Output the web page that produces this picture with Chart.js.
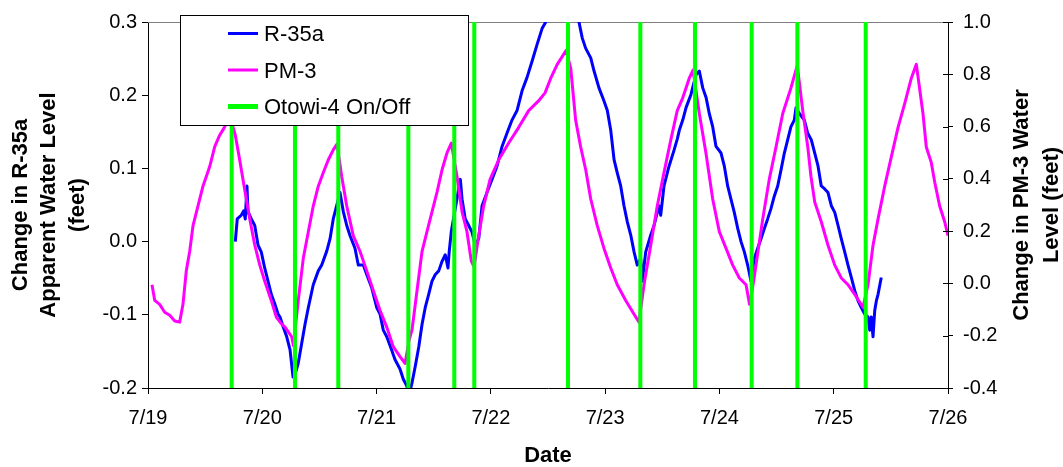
<!DOCTYPE html>
<html>
<head>
<meta charset="utf-8">
<script src="https://cdn.jsdelivr.net/npm/chart.js@4.4.0/dist/chart.umd.min.js"></script>
<style>
  html, body { margin: 0; padding: 0; background: #fff; }
  #wrap { width: 1063px; height: 467px; }
</style>
</head>
<body>
<div id="wrap"><canvas id="chart" width="1063" height="467"></canvas></div>
<script>
// Water level response to Otowi-4 pumping, 7/19 - 7/26
// x values are days after 7/19 00:00

const DAY_LABELS = ['7/19', '7/20', '7/21', '7/22', '7/23', '7/24', '7/25', '7/26'];

// R-35a apparent water level change (left axis, feet)
const r35Days = [
  0.764, 0.781, 0.816, 0.837, 0.851, 0.866, 0.875, 0.904, 0.934, 0.963, 0.991, 1.021, 1.050, 1.079, 1.109, 1.138,
  1.155, 1.184, 1.214, 1.243, 1.269, 1.286, 1.301, 1.315, 1.345, 1.374, 1.403, 1.446, 1.490, 1.520, 1.564, 1.593,
  1.621, 1.651, 1.680, 1.709, 1.739, 1.768, 1.811, 1.840, 1.884, 1.914, 1.957, 2.001, 2.030, 2.059, 2.089, 2.132,
  2.161, 2.205, 2.234, 2.264, 2.284, 2.310, 2.339, 2.369, 2.398, 2.426, 2.456, 2.485, 2.514, 2.544, 2.573, 2.601,
  2.625, 2.636, 2.654, 2.733, 2.748, 2.776, 2.806, 2.835, 2.864, 2.894, 2.923, 2.966, 3.010, 3.054, 3.098, 3.141,
  3.185, 3.229, 3.273, 3.316, 3.360, 3.404, 3.448, 3.535, 3.631, 3.710, 3.771, 3.800, 3.830, 3.874, 3.903, 3.946,
  3.990, 4.019, 4.049, 4.078, 4.106, 4.136, 4.165, 4.194, 4.224, 4.253, 4.281, 4.311, 4.325, 4.355, 4.399, 4.428,
  4.471, 4.486, 4.515, 4.559, 4.603, 4.631, 4.649, 4.679, 4.708, 4.751, 4.795, 4.824, 4.854, 4.883, 4.911, 4.941,
  4.970, 5.014, 5.043, 5.072, 5.101, 5.130, 5.160, 5.189, 5.218, 5.247, 5.276, 5.305, 5.335, 5.364, 5.393, 5.422,
  5.451, 5.480, 5.510, 5.539, 5.568, 5.597, 5.626, 5.655, 5.670, 5.699, 5.743, 5.773, 5.804, 5.834, 5.863, 5.891,
  5.921, 5.950, 5.979, 6.009, 6.038, 6.066, 6.096, 6.125, 6.154, 6.184, 6.213, 6.241, 6.271, 6.300, 6.315, 6.329,
  6.344, 6.359, 6.373, 6.388, 6.416
];
const r35Level = [
  0.000, 0.031, 0.036, 0.042, 0.031, 0.076, 0.041, 0.031, 0.022, -0.005, -0.014, -0.036, -0.054, -0.072, -0.085, -0.099,
  -0.103, -0.117, -0.130, -0.148, -0.185, -0.181, -0.174, -0.166, -0.139, -0.113, -0.090, -0.059, -0.040, -0.032, -0.013, 0.004,
  0.031, 0.049, 0.067, 0.041, 0.022, 0.008, -0.009, -0.032, -0.032, -0.045, -0.063, -0.090, -0.099, -0.121, -0.130, -0.148,
  -0.161, -0.174, -0.188, -0.197, -0.210, -0.193, -0.170, -0.144, -0.113, -0.090, -0.072, -0.054, -0.045, -0.040, -0.027, -0.018,
  -0.036, -0.013, 0.014, 0.085, 0.058, 0.031, 0.022, 0.013, -0.005, 0.004, 0.049, 0.067, 0.085, 0.103, 0.130, 0.148,
  0.166, 0.179, 0.206, 0.224, 0.246, 0.269, 0.291, 0.315, 0.325, 0.315, 0.300, 0.278, 0.264, 0.251, 0.233, 0.210,
  0.192, 0.179, 0.152, 0.112, 0.094, 0.076, 0.049, 0.027, 0.009, -0.014, -0.032, -0.023, -0.054, -0.014, 0.009, 0.022,
  0.049, 0.036, 0.076, 0.103, 0.125, 0.140, 0.152, 0.166, 0.183, 0.201, 0.228, 0.233, 0.210, 0.197, 0.175, 0.157,
  0.130, 0.121, 0.103, 0.076, 0.058, 0.040, 0.018, 0.000, -0.014, -0.032, -0.054, -0.023, -0.009, 0.004, 0.018, 0.031,
  0.045, 0.062, 0.076, 0.098, 0.121, 0.139, 0.157, 0.166, 0.183, 0.175, 0.166, 0.148, 0.139, 0.121, 0.103, 0.076,
  0.072, 0.067, 0.049, 0.040, 0.022, 0.004, -0.014, -0.032, -0.049, -0.067, -0.081, -0.090, -0.099, -0.103, -0.121, -0.103,
  -0.130, -0.094, -0.081, -0.072, -0.049
];

// PM-3 water level change (right axis, feet)
const pm3Days = [
  0.035, 0.059, 0.102, 0.146, 0.190, 0.234, 0.277, 0.306, 0.335, 0.365, 0.394, 0.437, 0.481, 0.540, 0.584, 0.627,
  0.665, 0.717, 0.764, 0.802, 0.831, 0.860, 0.890, 0.934, 0.977, 1.021, 1.079, 1.123, 1.166, 1.199, 1.257, 1.273,
  1.295, 1.315, 1.359, 1.403, 1.446, 1.490, 1.534, 1.578, 1.621, 1.654, 1.695, 1.739, 1.796, 1.855, 1.914, 1.971,
  2.030, 2.089, 2.146, 2.205, 2.249, 2.284, 2.310, 2.354, 2.398, 2.441, 2.485, 2.529, 2.573, 2.616, 2.654, 2.704,
  2.748, 2.791, 2.829, 2.853, 2.894, 2.937, 2.993, 3.069, 3.156, 3.244, 3.331, 3.419, 3.474, 3.524, 3.581, 3.658,
  3.699, 3.742, 3.786, 3.830, 3.874, 3.931, 3.990, 4.049, 4.106, 4.180, 4.253, 4.296, 4.340, 4.399, 4.456, 4.515,
  4.574, 4.631, 4.679, 4.736, 4.769, 4.824, 4.882, 4.941, 4.999, 5.058, 5.116, 5.174, 5.233, 5.263, 5.285, 5.320,
  5.379, 5.436, 5.495, 5.554, 5.626, 5.681, 5.729, 5.773, 5.801, 5.834, 5.891, 5.950, 6.009, 6.066, 6.125, 6.184,
  6.256, 6.300, 6.344, 6.388, 6.446, 6.504, 6.563, 6.621, 6.679, 6.723, 6.781, 6.810, 6.854, 6.884, 6.927, 6.971,
  7.000
];
const pm3Level = [
  -0.005, -0.065, -0.080, -0.110, -0.122, -0.144, -0.148, -0.080, 0.048, 0.123, 0.221, 0.296, 0.372, 0.447, 0.523, 0.567,
  0.594, 0.640, 0.567, 0.473, 0.398, 0.323, 0.247, 0.147, 0.072, 0.009, -0.066, -0.129, -0.154, -0.167, -0.204, -0.238,
  -0.144, -0.065, 0.097, 0.198, 0.296, 0.372, 0.424, 0.473, 0.511, 0.533, 0.409, 0.296, 0.183, 0.123, 0.048, -0.027,
  -0.103, -0.167, -0.242, -0.280, -0.306, -0.219, -0.178, -0.027, 0.123, 0.198, 0.274, 0.349, 0.435, 0.499, 0.537, 0.409,
  0.274, 0.198, 0.085, 0.063, 0.183, 0.296, 0.398, 0.473, 0.537, 0.597, 0.661, 0.699, 0.729, 0.785, 0.838, 0.891,
  0.823, 0.624, 0.522, 0.435, 0.323, 0.221, 0.134, 0.059, -0.005, -0.065, -0.118, -0.148, -0.005, 0.146, 0.296, 0.424,
  0.548, 0.661, 0.710, 0.785, 0.816, 0.650, 0.499, 0.323, 0.198, 0.134, 0.070, 0.021, -0.005, -0.080, -0.031, 0.070,
  0.247, 0.398, 0.522, 0.650, 0.748, 0.834, 0.661, 0.522, 0.409, 0.311, 0.236, 0.146, 0.070, 0.021, -0.005, -0.042,
  -0.091, -0.005, 0.146, 0.247, 0.372, 0.484, 0.597, 0.688, 0.785, 0.838, 0.650, 0.522, 0.462, 0.387, 0.296, 0.236,
  0.183
];

// Otowi-4 on/off switch times
const otowiSwitchDays = [0.732, 1.286, 1.665, 2.278, 2.680, 2.855, 3.675, 4.308, 4.786, 5.282, 5.682, 6.280];

const SERIES_NAMES = ['R-35a', 'PM-3', 'Otowi-4 On/Off'];
const SERIES_COLORS = ['#0000ff', '#ff00ff', '#00ff00'];

const LEFT_MIN = -0.2, LEFT_MAX = 0.3, LEFT_STEP = 0.1;
const RIGHT_MIN = -0.4, RIGHT_MAX = 1.0, RIGHT_STEP = 0.2;

const FONT = '"Liberation Sans", Arial, Helvetica, sans-serif';

Chart.defaults.color = '#000';
Chart.defaults.font.family = FONT;

const toPoints = (xs, ys) => xs.map((x, i) => ({ x, y: ys[i] }));

// each switch is a vertical line spanning the whole left axis
const otowiPoints = [];
otowiSwitchDays.forEach(d => {
  otowiPoints.push({ x: d, y: LEFT_MIN }, { x: d, y: LEFT_MAX }, { x: d, y: null });
});

const fmt1 = v => (Math.abs(v) < 1e-9 ? 0 : v).toFixed(1);

// frame, legend box and axis titles, drawn the Excel way
const framePlugin = {
  id: 'frame',
  beforeDatasetsDraw(chart) {
    const { ctx, chartArea: ca } = chart;
    ctx.save();
    ctx.strokeStyle = '#808080';
    ctx.lineWidth = 1;
    ctx.beginPath();
    ctx.moveTo(ca.left, ca.top + 0.5);
    ctx.lineTo(ca.right, ca.top + 0.5);
    ctx.stroke();
    ctx.restore();
  },
  afterDraw(chart) {
    const { ctx, chartArea: ca } = chart;
    ctx.save();

    // inner half of right axis ticks
    const yR = chart.scales.yR;
    ctx.strokeStyle = '#000';
    ctx.lineWidth = 1;
    ctx.beginPath();
    yR.ticks.forEach((t, i) => {
      const y = Math.round(yR.getPixelForTick(i)) + 0.5;
      ctx.moveTo(ca.right - 5, y);
      ctx.lineTo(ca.right, y);
    });
    ctx.stroke();

    // legend
    const box = { x: 180.5, y: 15.5, w: 288, h: 110 };
    ctx.fillStyle = '#fff';
    ctx.fillRect(box.x, box.y, box.w, box.h);
    ctx.strokeStyle = '#000';
    ctx.strokeRect(box.x, box.y, box.w, box.h);
    const rows = [33.5, 70, 106.5];
    const widths = [3, 3, 5];
    ctx.font = '22px ' + FONT;
    ctx.textBaseline = 'middle';
    ctx.textAlign = 'left';
    SERIES_NAMES.forEach((name, i) => {
      ctx.strokeStyle = SERIES_COLORS[i];
      ctx.lineWidth = widths[i];
      ctx.beginPath();
      ctx.moveTo(228, rows[i]);
      ctx.lineTo(258, rows[i]);
      ctx.stroke();
      ctx.fillStyle = '#000';
      ctx.fillText(name, 264, rows[i] + 1.5);
    });

    // axis titles
    ctx.fillStyle = '#000';
    ctx.font = 'bold 22px ' + FONT;
    ctx.textAlign = 'center';
    ctx.textBaseline = 'alphabetic';
    ctx.fillText('Date', (ca.left + ca.right) / 2, 462);

    const midY = (ca.top + ca.bottom) / 2;
    const vtext = (lines, xs) => {
      lines.forEach((t, i) => {
        ctx.save();
        ctx.translate(xs[i], midY);
        ctx.rotate(-Math.PI / 2);
        ctx.fillText(t, 0, 0);
        ctx.restore();
      });
    };
    vtext(['Change in R-35a', 'Apparent Water Level', '(feet)'], [27, 55, 84]);
    vtext(['Change in PM-3 Water', 'Level (feet)'], [1028, 1058]);
    ctx.restore();
  }
};

new Chart(document.getElementById('chart'), {
  type: 'line',
  data: {
    datasets: [
      {
        label: SERIES_NAMES[2],
        data: otowiPoints,
        yAxisID: 'yL',
        borderColor: SERIES_COLORS[2],
        borderWidth: 4,
        spanGaps: false,
        order: 0
      },
      {
        label: SERIES_NAMES[1],
        data: toPoints(pm3Days, pm3Level),
        yAxisID: 'yR',
        borderColor: SERIES_COLORS[1],
        borderWidth: 3,
        clip: 0,
        order: 1
      },
      {
        label: SERIES_NAMES[0],
        data: toPoints(r35Days, r35Level),
        yAxisID: 'yL',
        borderColor: SERIES_COLORS[0],
        borderWidth: 3,
        clip: 0,
        order: 2
      }
    ]
  },
  options: {
    responsive: false,
    animation: false,
    parsing: true,
    layout: { padding: { top: 16, left: 0, right: 0, bottom: 0 } },
    elements: {
      point: { radius: 0, hoverRadius: 0 },
      line: { tension: 0, fill: false, borderJoinStyle: 'round', borderCapStyle: 'butt' }
    },
    plugins: { legend: { display: false }, tooltip: { enabled: false } },
    scales: {
      x: {
        type: 'linear',
        min: 0,
        max: DAY_LABELS.length - 1,
        afterFit: s => { s.height = 79; },
        ticks: {
          stepSize: 1,
          autoSkip: false,
          maxRotation: 0,
          padding: 12,
          font: { size: 20 },
          callback: v => DAY_LABELS[v] ?? ''
        },
        grid: { drawOnChartArea: false, tickLength: 6, color: '#000' },
        border: { color: '#000' }
      },
      yL: {
        position: 'left',
        min: LEFT_MIN,
        max: LEFT_MAX,
        afterFit: s => { s.width = 148; },
        ticks: { stepSize: LEFT_STEP, padding: 5, font: { size: 20 }, callback: fmt1 },
        grid: { drawOnChartArea: false, tickLength: 6, color: '#000' },
        border: { color: '#000' }
      },
      yR: {
        position: 'right',
        min: RIGHT_MIN,
        max: RIGHT_MAX,
        afterFit: s => { s.width = 115; },
        ticks: { stepSize: RIGHT_STEP, padding: 10, font: { size: 20 }, callback: fmt1 },
        grid: { drawOnChartArea: false, tickLength: 5, color: '#000' },
        border: { color: '#000' }
      }
    }
  },
  plugins: [framePlugin]
});
</script>
</body>
</html>
